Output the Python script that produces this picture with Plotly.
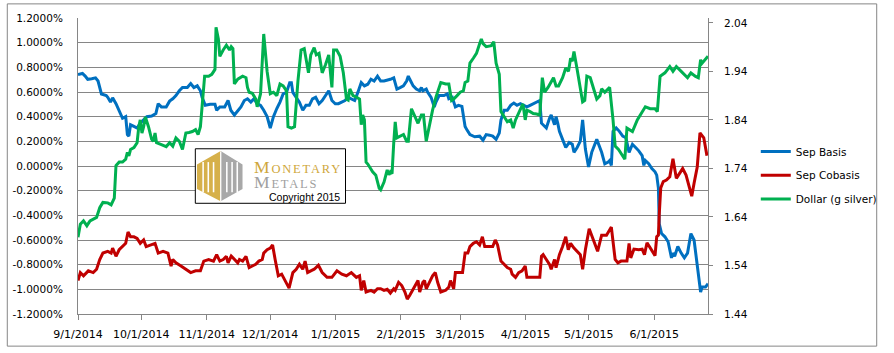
import pandas as pd
import plotly.graph_objects as go

START = pd.Timestamp("2014-09-01")

# ---- data (days since 9/1/2014) ----
basis_day = [0, 2.1, 3.4, 4.6, 6.5, 8.3, 9.5, 11.1, 13.4, 14.1, 15.4, 16.4, 18.0, 19.5, 21.1, 22.6, 23.4, 24.1, 24.9,
             26.5, 28.0, 29.5, 31.1, 32.6, 34.9, 36.9, 38.0, 39.5, 41.8, 43.4, 44.9, 46.4, 48.0, 49.5, 51.8, 53.4, 54.9,
             56.5, 58.0, 58.8, 60.3, 62.6, 64.9, 65.7, 67.2, 69.5, 71.1, 72.4, 74.1, 75.7, 77.2, 78.8, 80.3, 81.9, 83.4,
             84.9, 86.5, 88.0, 89.6, 91.1, 92.6, 94.2, 95.7, 97.2, 98.8, 100.3, 101.1, 101.8, 103.4, 104.9, 106.5, 108.0,
             109.6, 111.1, 112.6, 114.2, 115.7, 117.3, 118.8, 120.3, 121.9, 123.4, 124.9, 126.5, 128.0, 129.5, 131.1,
             132.6, 134.2, 135.7, 137.3, 138.8, 140.3, 141.9, 143.4, 145.0, 146.5, 148.0, 149.6, 151.1, 152.6, 154.2,
             155.7, 156.5, 157.2, 158.8, 160.3, 161.9, 162.7, 163.4, 165.0, 165.7, 167.3, 168.8, 169.6, 171.1, 173.4,
             175.0, 175.7, 177.3, 178.8, 180.3, 181.9, 183.4, 184.2, 185.7, 188.0, 190.3, 191.9, 193.4, 195.0, 196.5,
             198.1, 199.6, 200.4, 201.9, 203.4, 205.0, 206.5, 208.0, 209.6, 211.1, 212.7, 214.2, 217.3, 218.8, 219.6,
             220.4, 221.9, 223.4, 224.2, 225.8, 226.5, 227.3, 228.1, 229.6, 231.1, 232.7, 234.2, 235.0, 236.5, 238.0,
             239.1, 240.4, 241.9, 243.4, 245.8, 248.1, 249.6, 251.2, 251.9, 252.7, 253.5, 255.0, 256.5, 258.1, 259.6,
             261.1, 262.7, 264.2, 265.7, 267.3, 268.1, 268.8, 270.4, 271.9, 273.4, 274.2, 275.0, 275.4, 276.5, 278.1,
             279.6, 281.2, 281.9, 282.7, 284.2, 285.8, 287.3, 288.8, 290.4, 291.9, 293.4, 294.2, 295.0, 295.7, 297.3, 298.5]
basis_val = [0.742, 0.750, 0.729, 0.703, 0.708, 0.715, 0.689, 0.584, 0.571, 0.557, 0.518, 0.553, 0.505, 0.452, 0.387,
             0.400, 0.255, 0.242, 0.334, 0.321, 0.308, 0.347, 0.373, 0.400, 0.405, 0.426, 0.505, 0.479, 0.479, 0.526,
             0.545, 0.571, 0.610, 0.636, 0.636, 0.668, 0.636, 0.650, 0.610, 0.557, 0.492, 0.500, 0.500, 0.452, 0.479,
             0.479, 0.531, 0.452, 0.413, 0.452, 0.479, 0.531, 0.545, 0.518, 0.545, 0.505, 0.492, 0.452, 0.400, 0.308,
             0.400, 0.466, 0.518, 0.584, 0.597, 0.676, 0.676, 0.597, 0.557, 0.518, 0.452, 0.492, 0.492, 0.545, 0.557,
             0.505, 0.531, 0.571, 0.610, 0.531, 0.505, 0.505, 0.518, 0.531, 0.557, 0.545, 0.531, 0.597, 0.676, 0.650,
             0.663, 0.703, 0.689, 0.729, 0.689, 0.689, 0.695, 0.703, 0.715, 0.624, 0.636, 0.650, 0.689, 0.729, 0.703,
             0.650, 0.624, 0.610, 0.636, 0.610, 0.624, 0.597, 0.557, 0.479, 0.518, 0.571, 0.571, 0.584, 0.545, 0.557,
             0.479, 0.492, 0.484, 0.321, 0.295, 0.255, 0.237, 0.242, 0.210, 0.255, 0.250, 0.242, 0.216, 0.268, 0.373,
             0.452, 0.452, 0.492, 0.510, 0.492, 0.505, 0.492, 0.479, 0.492, 0.518, 0.531, 0.347, 0.334, 0.308, 0.387,
             0.413, 0.334, 0.400, 0.347, 0.281, 0.216, 0.150, 0.190, 0.176, 0.111, 0.150, 0.202, 0.373, 0.137, -0.008,
             0.111, 0.216, 0.111, 0.018, 0.032, 0.044, 0.005, 0.281, 0.308, 0.281, 0.242, 0.229, 0.111, 0.176, 0.150,
             0.123, 0.084, 0.005, 0.044, 0.018, -0.021, -0.047, -0.074, -0.179, -0.469, -0.548, -0.574, -0.614, -0.745,
             -0.706, -0.732, -0.653, -0.706, -0.745, -0.706, -0.548, -0.600, -0.785, -0.916, -1.022, -0.982, -0.982, -0.955]

cobasis_day = [0, 1.1, 2.6, 4.9, 7.2, 8.8, 10.3, 11.8, 14.1, 15.7, 16.4, 18.0, 19.5, 21.1, 22.6, 23.7, 24.9, 26.5, 28.0,
               29.5, 31.1, 32.3, 34.2, 35.7, 36.5, 38.0, 40.3, 42.6, 44.1, 44.9, 46.4, 48.8, 51.1, 53.4, 55.7, 58.0,
               59.6, 61.9, 64.2, 65.7, 67.2, 68.8, 70.3, 71.1, 72.6, 74.1, 75.7, 76.5, 78.0, 79.6, 81.1, 82.6, 84.2,
               85.7, 87.3, 88.0, 89.6, 91.1, 92.2, 93.4, 94.9, 96.5, 98.0, 100.0, 101.8, 103.4, 104.9, 106.5, 107.6,
               108.8, 110.3, 111.9, 113.9, 115.7, 118.0, 120.3, 122.7, 125.0, 127.2, 129.5, 131.9, 133.4, 134.2, 135.4,
               136.5, 138.8, 140.3, 141.9, 143.4, 145.0, 146.5, 148.0, 149.6, 150.3, 151.9, 153.4, 154.9, 156.0, 157.2,
               158.8, 161.1, 161.9, 163.4, 164.2, 165.0, 166.5, 168.0, 169.3, 170.4, 171.9, 174.2, 175.7, 176.5, 178.0,
               178.8, 180.3, 182.2, 183.4, 184.7, 185.7, 187.3, 188.8, 190.3, 191.6, 192.7, 194.2, 196.5, 197.7, 198.8,
               200.4, 201.9, 203.4, 205.0, 205.7, 207.3, 208.8, 210.4, 211.9, 212.7, 214.2, 217.3, 218.8, 219.6, 220.4,
               221.9, 223.4, 224.2, 225.8, 226.5, 228.1, 229.6, 231.1, 232.3, 233.4, 235.0, 236.5, 238.0, 239.1, 240.4,
               242.2, 243.4, 245.0, 246.2, 248.1, 250.4, 252.7, 253.5, 254.5, 255.8, 257.3, 258.8, 260.1, 261.1, 261.9,
               263.4, 265.7, 267.3, 268.4, 269.6, 271.1, 273.4, 274.2, 275.0, 275.4, 276.1, 277.3, 278.8, 280.4, 281.9,
               283.5, 285.0, 286.5, 288.1, 289.6, 290.8, 291.9, 293.4, 294.7, 296.5, 298.0]
cobasis_val = [-0.929, -0.864, -0.890, -0.850, -0.864, -0.837, -0.758, -0.706, -0.692, -0.706, -0.666, -0.732, -0.679,
               -0.653, -0.627, -0.535, -0.574, -0.574, -0.587, -0.627, -0.600, -0.653, -0.640, -0.627, -0.627, -0.706,
               -0.692, -0.706, -0.811, -0.758, -0.785, -0.811, -0.837, -0.864, -0.850, -0.850, -0.771, -0.758, -0.771,
               -0.719, -0.771, -0.758, -0.732, -0.785, -0.730, -0.758, -0.785, -0.758, -0.771, -0.732, -0.824, -0.811,
               -0.797, -0.771, -0.758, -0.706, -0.679, -0.666, -0.640, -0.758, -0.890, -0.877, -0.929, -0.990, -0.864,
               -0.837, -0.797, -0.837, -0.771, -0.864, -0.850, -0.837, -0.805, -0.864, -0.903, -0.903, -0.850, -0.877,
               -0.890, -0.864, -0.903, -0.890, -1.008, -0.929, -1.022, -1.008, -1.022, -0.995, -0.995, -1.008, -1.000,
               -1.030, -0.995, -1.008, -0.943, -0.969, -1.022, -1.079, -1.048, -0.995, -0.929, -1.022, -0.943, -0.929,
               -0.995, -0.943, -0.890, -0.864, -0.943, -1.022, -1.008, -0.982, -0.929, -0.995, -0.864, -0.864, -0.864,
               -0.706, -0.706, -0.653, -0.627, -0.614, -0.640, -0.574, -0.653, -0.653, -0.653, -0.600, -0.640, -0.771,
               -0.797, -0.824, -0.837, -0.877, -0.903, -0.864, -0.850, -0.811, -0.903, -0.903, -0.903, -0.903, -0.732,
               -0.719, -0.758, -0.797, -0.837, -0.758, -0.824, -0.719, -0.653, -0.574, -0.679, -0.627, -0.666, -0.692,
               -0.719, -0.837, -0.679, -0.508, -0.561, -0.640, -0.692, -0.561, -0.561, -0.495, -0.600, -0.758, -0.785,
               -0.771, -0.771, -0.771, -0.627, -0.745, -0.674, -0.679, -0.674, -0.719, -0.622, -0.666, -0.727, -0.574,
               -0.561, -0.390, -0.179, -0.126, -0.114, -0.087, 0.058, -0.100, -0.061, -0.021, -0.074, -0.179, -0.245,
               -0.140, -0.008, 0.268, 0.229, 0.084]

dollar_day = [0, 1.1, 2.6, 4.2, 5.7, 7.2, 8.8, 10.3, 11.8, 14.1, 15.7, 17.2, 18.0, 19.5, 21.1, 22.6, 23.4, 24.1, 24.9,
              26.5, 28.0, 28.8, 29.5, 30.3, 31.1, 31.9, 33.4, 34.9, 35.7, 36.5, 37.2, 39.5, 41.8, 43.4, 44.9, 46.4,
              48.0, 49.5, 51.1, 52.6, 54.2, 55.7, 56.9, 58.0, 58.8, 60.0, 61.9, 63.4, 64.9, 65.4, 66.5, 67.2, 68.8,
              70.3, 71.8, 72.6, 73.4, 74.1, 75.7, 77.2, 78.0, 79.6, 80.3, 81.1, 82.6, 84.2, 84.9, 86.5, 88.0, 89.6,
              91.1, 92.6, 94.2, 95.7, 97.2, 98.8, 99.5, 101.1, 102.6, 104.2, 105.7, 107.2, 109.2, 110.3, 111.9, 112.9,
              114.2, 115.7, 117.3, 118.8, 120.3, 121.1, 122.6, 124.2, 125.7, 127.2, 128.0, 128.8, 130.3, 131.9, 133.4,
              134.2, 134.9, 135.7, 136.5, 137.3, 139.6, 141.1, 142.7, 143.4, 145.0, 146.5, 147.3, 148.0, 148.8, 149.6,
              150.3, 151.1, 152.6, 154.2, 155.7, 156.5, 158.0, 159.6, 161.1, 162.7, 163.7, 165.0, 166.5, 168.0, 169.6,
              171.9, 174.2, 175.7, 177.0, 178.0, 179.6, 181.1, 182.6, 183.4, 184.7, 185.7, 187.3, 188.8, 190.3, 191.1,
              191.9, 193.4, 195.8, 197.0, 198.1, 199.6, 200.4, 201.9, 203.4, 205.0, 206.2, 207.3, 209.6, 210.8, 211.9,
              212.7, 214.2, 215.7, 217.3, 218.8, 220.0, 221.1, 222.7, 224.2, 225.3, 226.5, 227.7, 229.6, 231.1, 232.4,
              233.4, 234.2, 235.0, 236.5, 238.0, 239.1, 240.1, 241.1, 242.7, 244.2, 245.8, 247.3, 248.1, 249.6, 251.9,
              253.5, 254.5, 256.1, 258.1, 259.1, 260.1, 261.1, 262.7, 265.0, 267.3, 268.8, 271.1, 273.4, 274.5, 275.8,
              278.1, 280.4, 281.9, 283.5, 285.8, 287.3, 288.8, 290.4, 292.4, 293.9, 295.0, 295.7, 297.3, 298.5]
dollar_val = [1.598, 1.625, 1.632, 1.622, 1.632, 1.635, 1.639, 1.659, 1.670, 1.669, 1.665, 1.679, 1.746, 1.753, 1.753,
              1.759, 1.773, 1.766, 1.779, 1.783, 1.793, 1.826, 1.840, 1.813, 1.826, 1.846, 1.826, 1.800, 1.796, 1.813,
              1.793, 1.789, 1.785, 1.793, 1.786, 1.803, 1.796, 1.779, 1.813, 1.814, 1.816, 1.820, 1.810, 1.826, 1.873,
              1.930, 1.930, 1.934, 1.944, 2.031, 2.007, 1.971, 1.984, 1.994, 1.984, 1.991, 1.987, 1.914, 1.924, 1.927,
              1.930, 1.927, 1.907, 1.897, 1.895, 1.883, 1.867, 1.894, 2.017, 1.940, 1.894, 1.897, 1.890, 1.914, 1.910,
              1.900, 1.826, 1.823, 1.826, 1.920, 1.984, 1.987, 1.937, 1.974, 1.989, 1.974, 1.977, 1.937, 1.954, 1.974,
              1.907, 1.984, 1.984, 1.971, 1.937, 1.883, 1.881, 1.904, 1.890, 1.887, 1.883, 1.830, 1.850, 1.840, 1.753,
              1.749, 1.733, 1.726, 1.699, 1.696, 1.712, 1.737, 1.727, 1.733, 1.729, 1.793, 1.836, 1.803, 1.806, 1.810,
              1.796, 1.796, 1.863, 1.846, 1.833, 1.850, 1.850, 1.796, 1.830, 1.860, 1.887, 1.917, 1.914, 1.914, 1.880,
              1.883, 1.890, 1.897, 1.900, 1.917, 1.920, 1.957, 1.967, 1.977, 1.997, 2.007, 1.997, 1.991, 1.993, 2.001,
              1.957, 1.934, 1.857, 1.846, 1.836, 1.840, 1.823, 1.840, 1.860, 1.873, 1.840, 1.860, 1.857, 1.853, 1.852,
              1.850, 1.927, 1.897, 1.907, 1.917, 1.927, 1.910, 1.910, 1.927, 1.947, 1.940, 1.967, 1.961, 1.981, 1.944,
              1.900, 1.877, 1.880, 1.930, 1.927, 1.907, 1.883, 1.890, 1.904, 1.897, 1.907, 1.840, 1.786, 1.779, 1.766,
              1.759, 1.823, 1.820, 1.816, 1.840, 1.857, 1.867, 1.863, 1.863, 1.857, 1.930, 1.937, 1.950, 1.940, 1.950,
              1.940, 1.934, 1.927, 1.937, 1.930, 1.927, 1.964, 1.957, 1.964, 1.971]

left_ticks = [-1.2, -1.0, -0.8, -0.6, -0.4, -0.2, 0.0, 0.2, 0.4, 0.6, 0.8, 1.0, 1.2]
left_labels = ["-1.2000%", "-1.0000%", "-0.8000%", "-0.6000%", "-0.4000%", "-0.2000%", "0.0000%",
               "0.2000%", "0.4000%", "0.6000%", "0.8000%", "1.0000%", "1.2000%"]
right_ticks = [1.44, 1.54, 1.64, 1.74, 1.84, 1.94, 2.04]
right_labels = ["1.44", "1.54", "1.64", "1.74", "1.84", "1.94", "2.04"]
series_names = ["Sep Basis", "Sep Cobasis", "Dollar (g silver)"]


def to_dates(days):
    return START + pd.to_timedelta(days, unit="D")


GRID = "#868686"
FONT = "DejaVu Sans"

fig = go.Figure()
fig.add_trace(go.Scatter(x=to_dates(basis_day), y=basis_val, name=series_names[0], mode="lines",
                         line=dict(color="#0070C0", width=3), legend="legend"))
fig.add_trace(go.Scatter(x=to_dates(cobasis_day), y=cobasis_val, name=series_names[1], mode="lines",
                         line=dict(color="#C00000", width=3), legend="legend2"))
fig.add_trace(go.Scatter(x=to_dates(dollar_day), y=dollar_val, name=series_names[2], mode="lines",
                         line=dict(color="#00B050", width=3), yaxis="y2", legend="legend3"))

L, T, W, H = 73, 15, 646, 304


def px(x):
    return (x - L) / W


def py(y):
    return (T + H - y) / H


shapes = []
# outer chart border
shapes.append(dict(type="rect", xref="paper", yref="paper", x0=px(0.5), x1=px(892), y0=py(352), y1=py(0.5),
                   line=dict(color=GRID, width=1), fillcolor="rgba(0,0,0,0)", layer="below"))
# logo box
shapes.append(dict(type="rect", xref="paper", yref="paper", x0=px(193.3), x1=px(347.3), y0=py(205.3), y1=py(149.3),
                   line=dict(color="black", width=1), fillcolor="white"))
GOLD = "#D6B04A"
GREY = "#A8A8A8"


def poly(points, color):
    d = "M " + " L ".join(f"{px(a)},{py(b)}" for a, b in points) + " Z"
    return dict(type="path", xref="paper", yref="paper", path=d, fillcolor=color, line=dict(width=0))


shapes.append(poly([(219.3, 151.7), (195, 165.5), (195, 190.5), (219.3, 203.3)], GOLD))
shapes.append(poly([(219.3, 151.7), (241.7, 165.5), (241.7, 190.5), (219.3, 203.3)], GREY))
for x0 in [200.5, 205.8, 211.2, 224.8, 230.2, 235.5]:
    shapes.append(dict(type="rect", xref="paper", yref="paper", x0=px(x0), x1=px(x0 + 1.6), y0=py(194), y1=py(163),
                       fillcolor="white", line=dict(width=0)))
shapes.append(dict(type="rect", xref="paper", yref="paper", x0=px(218.7), x1=px(220), y0=py(203), y1=py(152),
                   fillcolor="white", line=dict(width=0)))

BIG = "font-size:17.5px;letter-spacing:1.8px"
SMALL = "font-size:12.5px;letter-spacing:1.8px"
logo_text = (f"<span style='{BIG};fill:#CFA73C'>M</span><span style='{SMALL};fill:#CFA73C'>ONETARY</span><br>"
             f"<span style='{BIG};fill:#A0A0A0'>M</span><span style='{SMALL};fill:#A0A0A0'>ETALS</span>")
annotations = [
    dict(xref="paper", yref="paper", x=px(251.5), y=py(176), xanchor="left", yanchor="middle", showarrow=False,
         align="left", text=logo_text,
         font=dict(family="Liberation Serif", size=11.5, color="#CFA73C")),
    dict(xref="paper", yref="paper", x=px(343.5), y=py(198.5), xanchor="right", yanchor="middle", showarrow=False,
         text="Copyright 2015", font=dict(family="Liberation Sans", size=10.5, color="black")),
]

leg_common = dict(xanchor="left", yanchor="middle", bgcolor="rgba(0,0,0,0)", borderwidth=0,
                  font=dict(family=FONT, size=10.5, color="black"))

fig.update_layout(
    width=894, height=353,
    margin=dict(l=L, r=894 - L - W, t=T, b=353 - T - H, pad=0),
    paper_bgcolor="white", plot_bgcolor="white",
    showlegend=True,
    legend=dict(x=px(768), y=py(152), **leg_common),
    legend2=dict(x=px(768), y=py(176.5), **leg_common),
    legend3=dict(x=px(768), y=py(201), **leg_common),
    xaxis=dict(
        type="date", range=[START, START + pd.Timedelta(days=298.5)],
        tick0="2014-09-01", dtick="M1", tickformat="%-m/%-d/%Y",
        showgrid=False, zeroline=False, showline=True, linecolor=GRID, linewidth=1,
        ticks="outside", ticklen=5, tickcolor=GRID, tickwidth=1, ticklabelstandoff=5,
        tickfont=dict(family=FONT, size=11, color="black"),
    ),
    yaxis=dict(
        range=[-1.2, 1.2], tickvals=left_ticks, ticktext=left_labels,
        showgrid=True, gridcolor=GRID, gridwidth=1, zeroline=False,
        showline=True, linecolor=GRID, linewidth=1, ticks="", ticklabelstandoff=12,
        tickfont=dict(family=FONT, size=10.5, color="black"),
    ),
    yaxis2=dict(
        overlaying="y", side="right", range=[1.44, 2.05], tickvals=right_ticks, ticktext=right_labels,
        showgrid=False, zeroline=False, showline=True, linecolor=GRID, linewidth=1,
        ticks="outside", ticklen=4, tickcolor=GRID, ticklabelstandoff=9,
        tickfont=dict(family=FONT, size=10.5, color="black"),
    ),
    shapes=shapes,
    annotations=annotations,
)

fig.write_html("out.html")
